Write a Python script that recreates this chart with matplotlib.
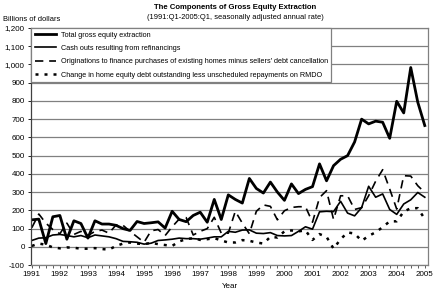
import numpy as np
import matplotlib
matplotlib.use("Agg")
import matplotlib.pyplot as plt
from matplotlib.ticker import FuncFormatter, MultipleLocator

plt.rcParams['font.family'] = ['Liberation Sans', 'DejaVu Sans']

# quarterly, 1991:Q1 - 2005:Q1, billions of dollars
start_year = 1991
total_gross = [148, 152, 18, 165, 172, 42, 143, 128, 48, 143, 125, 125,
               118, 100, 90, 139, 128, 132, 137, 103, 195, 150, 138, 172,
               190, 135, 260, 150, 285, 260, 240, 375, 320, 295, 355, 300,
               255, 345, 292, 315, 330, 455, 362, 445, 480, 500, 575, 700,
               674, 689, 683, 595, 798, 734, 983, 793, 665]
cash_outs = [35, 48, 50, 65, 68, 62, 55, 62, 50, 65, 60, 55,
             45, 30, 28, 25, 15, 20, 35, 38, 42, 48, 45, 45,
             42, 48, 55, 55, 85, 80, 92, 93, 75, 73, 78, 62,
             60, 62, 85, 110, 97, 192, 195, 193, 250, 185, 170, 215,
             332, 272, 290, 205, 178, 235, 258, 298, 272]
originations = [105, 180, 130, 95, 72, 130, 68, 85, 62, 85, 92, 75,
                120, 118, 85, 55, 25, 88, 95, 62, 110, 152, 160, 65,
                85, 100, 162, 75, 75, 195, 130, 72, 195, 230, 222, 148,
                198, 216, 220, 220, 135, 270, 308, 150, 280, 280, 205, 215,
                280, 360, 423, 317, 207, 390, 388, 335, 298]
home_equity = [5, 18, 12, -3, -8, -3, -5, -10, -10, -7, -12, -15,
               5, 18, 24, 18, 15, 22, 15, 10, 5, 30, 42, 48,
               38, 42, 48, 35, 24, 24, 37, 33, 24, 18, 55, 51,
               85, 90, 85, 90, 38, 70, 55, -10, 42, 79, 73, 33,
               60, 80, 108, 140, 140, 193, 212, 212, 153]

labels = ["Total gross equity extraction",
          "Cash outs resulting from refinancings",
          "Originations to finance purchases of existing homes minus sellers' debt cancellation",
          "Change in home equity debt outstanding less unscheduled repayments on RMDO"]

years = list(range(1991, 2006))
quarters = start_year + np.arange(len(total_gross)) / 4.0

fig = plt.figure(figsize=(4.36, 2.91), dpi=100)
ax = fig.add_axes([0.071, 0.089, 0.911, 0.815])

grid_col = '#808080'
ax.set_ylim(-100, 1200)
ax.set_xlim(1990.97, 2005.12)
ax.yaxis.set_major_locator(MultipleLocator(100))
ax.yaxis.set_major_formatter(FuncFormatter(lambda v, p: f"{v:,.0f}"))
ax.set_xticks(years)
ax.set_xticklabels([str(y) for y in years])
ax.xaxis.set_minor_locator(MultipleLocator(0.25))
ax.grid(axis='y', color=grid_col, linewidth=0.9)
ax.set_axisbelow(True)
for s in ax.spines.values():
    s.set_color(grid_col)
    s.set_linewidth(0.9)
ax.spines['left'].set_color('#404040')
ax.tick_params(axis='both', labelsize=5.8, colors='black', width=0.6, length=2.5, pad=2)
ax.tick_params(axis='x', which='minor', length=2, width=0.6, color='#404040')
ax.tick_params(axis='x', which='major', color='#404040')

ax.plot(quarters, total_gross, color='black', lw=2.0, label=labels[0])
ax.plot(quarters, cash_outs, color='black', lw=1.2, label=labels[1])
ax.plot(quarters, originations, color='black', lw=1.2, linestyle=(0, (5, 3.5)), label=labels[2])
ax.plot(quarters, home_equity, color='black', lw=1.8, linestyle=(0, (1.2, 2.4)), label=labels[3])

leg = ax.legend(loc='upper left', bbox_to_anchor=(0, 1), borderaxespad=0,
                fontsize=5.2, fancybox=False, framealpha=1, edgecolor=grid_col,
                handlelength=3.0, labelspacing=0.87, borderpad=0.5, handletextpad=0.6)
leg.get_frame().set_linewidth(0.9)

ax.set_xlabel("Year", fontsize=5.8, labelpad=3)

fig.text(0.54, 0.985, "The Components of Gross Equity Extraction", ha='center', va='top',
         fontsize=5.6, fontweight='bold')
fig.text(0.54, 0.952, "(1991:Q1-2005:Q1, seasonally adjusted annual rate)", ha='center', va='top',
         fontsize=5.4)
fig.text(0.007, 0.945, "Billions of dollars", ha='left', va='top', fontsize=5.4)

fig.savefig("out.png", dpi=100)
